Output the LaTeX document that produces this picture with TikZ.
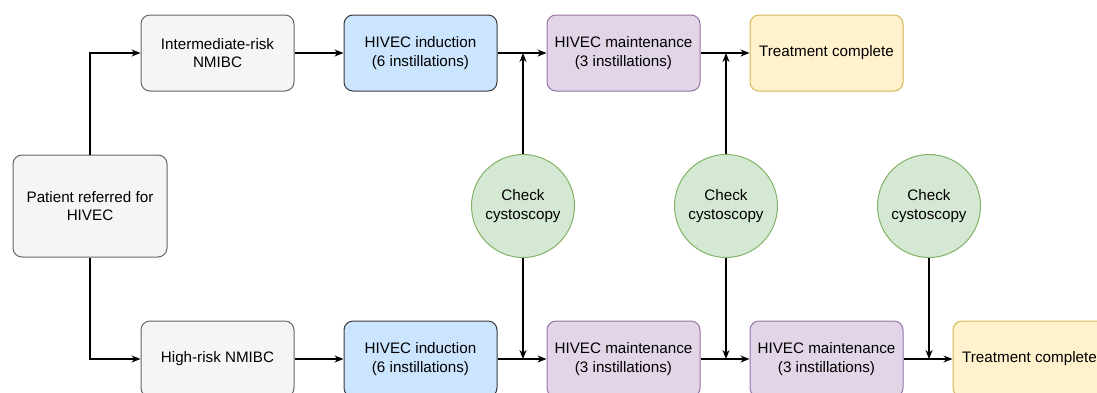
\documentclass[tikz,border=0pt]{standalone}
\usepackage{fontspec}
\setmainfont{Liberation Sans}
\usetikzlibrary{arrows.meta}
\definecolor{greyfill}{HTML}{F5F5F5}
\definecolor{greyline}{HTML}{666666}
\definecolor{bluefill}{HTML}{CCE5FF}
\definecolor{blueline}{HTML}{36393D}
\definecolor{purplefill}{HTML}{E1D5E7}
\definecolor{purpleline}{HTML}{9673A6}
\definecolor{yellowfill}{HTML}{FFF2CC}
\definecolor{yellowline}{HTML}{D6B656}
\definecolor{greenfill}{HTML}{D5E8D4}
\definecolor{greenline}{HTML}{82B366}
\begin{document}
\begin{tikzpicture}[x=1pt,y=-1pt,line width=1.2pt,>={Stealth[length=9pt,width=7pt]},node distance=203pt,
    box/.style={draw,rectangle,rounded corners=9pt,minimum width=153pt,minimum height=76pt,inner sep=2pt,align=center,line width=1pt,font=\fontsize{15.2}{18.3}\selectfont},
    greybox/.style={box,fill=greyfill,draw=greyline},
    inductbox/.style={box,fill=bluefill,draw=blueline},
    maintbox/.style={box,fill=purplefill,draw=purpleline},
    donebox/.style={box,fill=yellowfill,draw=yellowline},
    checknode/.style={draw=greenline,fill=greenfill,circle,minimum size=103pt,inner sep=0pt,align=center,line width=1pt,font=\fontsize{15.2}{18.3}\selectfont}]
        \useasboundingbox (0,0) rectangle (1097,392);
        \node[greybox,minimum width=154pt,minimum height=102pt] (patient) at (90,206) {Patient referred for\\HIVEC};
        % intermediate-risk row
        \node[greybox] (inter) at (217.5,53) {Intermediate-risk\\NMIBC};
        \node[inductbox,right of=inter] (indA) {HIVEC induction\\(6 instillations)};
        \node[maintbox,right of=indA] (maintA) {HIVEC maintenance\\(3 instillations)};
        \node[donebox,right of=maintA] (doneA) {Treatment complete};
        % high-risk row
        \node[greybox] (high) at (217.5,359) {High-risk NMIBC};
        \node[inductbox,right of=high] (indB) {HIVEC induction\\(6 instillations)};
        \node[maintbox,right of=indB] (maintB) {HIVEC maintenance\\(3 instillations)};
        \node[maintbox,right of=maintB] (maintC) {HIVEC maintenance\\(3 instillations)};
        \node[donebox,right of=maintC] (doneB) {Treatment complete};
        % cystoscopy checks
        \node[checknode] (checkA) at (523,206) {Check\\cystoscopy};
        \node[checknode,right of=checkA] (checkB) {Check\\cystoscopy};
        \node[checknode,right of=checkB] (checkC) {Check\\cystoscopy};
        \draw[->] (patient) |- (inter);
        \draw[->] (patient) |- (high);
        \draw[->] (inter) -- (indA);
        \draw[->] (indA) -- (maintA);
        \draw[->] (maintA) -- (doneA);
        \draw[->] (high) -- (indB);
        \draw[->] (indB) -- (maintB);
        \draw[->] (maintB) -- (maintC);
        \draw[->] (maintC) -- (doneB);
        \draw[->] (checkA) -- (checkA |- indA);
        \draw[->] (checkA) -- (checkA |- indB);
        \draw[->] (checkB) -- (checkB |- maintA);
        \draw[->] (checkB) -- (checkB |- maintB);
        \draw[->] (checkC) -- (checkC |- maintC);
\end{tikzpicture}
\end{document}
